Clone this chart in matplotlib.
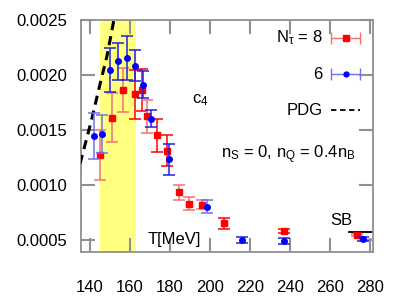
import numpy as np
import matplotlib
matplotlib.use("Agg")
import matplotlib.pyplot as plt

plt.rcParams['font.family'] = ['Liberation Sans', 'DejaVu Sans']
plt.rcParams['mathtext.fontset'] = 'custom'
plt.rcParams['mathtext.rm'] = 'Liberation Sans'
plt.rcParams['mathtext.it'] = 'Liberation Sans'
plt.rcParams['mathtext.default'] = 'regular'

# N_tau = 8 (red)
T8 = [145.0, 151.0, 156.7, 162.3, 166.0, 168.5, 173.7, 178.3, 184.7, 189.7, 196.2, 207.2, 236.8, 273.7]
c8 = [0.00127, 0.00161, 0.00186, 0.00182, 0.00186, 0.00162, 0.00145, 0.00131, 0.00093, 0.00083, 0.00082, 0.00065, 0.00058, 0.000545]
e8 = [0.00023, 0.00022, 0.00020, 0.00022, 0.00019, 0.00015, 0.00015, 0.00014, 0.00007, 0.00006, 0.00004, 0.00005, 0.00002, 0.00001]
dark8 = [0, 0, 0, 1, 1, 0, 1, 1, 0, 0, 0, 1, 1, 0]

# N_tau = 6 (blue)
T6 = [142.2, 145.8, 150.0, 153.8, 158.3, 162.3, 166.7, 170.5, 179.5, 198.7, 216.2, 237.2, 276.5]
c6 = [0.00144, 0.00146, 0.00204, 0.00212, 0.00215, 0.00208, 0.00191, 0.00160, 0.00123, 0.00080, 0.00050, 0.00049, 0.00051]
e6 = [0.00021, 0.00017, 0.00020, 0.00017, 0.00020, 0.00014, 0.00012, 0.00008, 0.00014, 0.00006, 0.00003, 0.00003, 0.00002]
dark6 = [0, 0, 1, 1, 1, 1, 1, 1, 1, 0, 1, 1, 1]

# PDG HRG curve
T_pdg = [135.0, 140.8, 144.7, 148.5, 152.0]
c_pdg = [0.00119, 0.00159, 0.00189, 0.00217, 0.0025]

# transition band and SB limit
Tc_band = (145.0, 163.0)
SB_T = (269.5, 281.5)
SB_c = 0.000576

fig = plt.figure(figsize=(4.02, 3.01), dpi=100)
ax = fig.add_axes([81/402, 49/301, 292/402, 232.5/301])

ax.axvspan(Tc_band[0], Tc_band[1], color='#ffff80', lw=0, zorder=0)
ax.plot(T_pdg, c_pdg, color='black', ls=(0, (3, 2)), lw=2.2, zorder=3)
ax.plot(SB_T, [SB_c, SB_c], color='black', lw=1.3)

for t, c, e, d in zip(T8, c8, e8, dark8):
    ax.errorbar(t, c, yerr=e, fmt='s', color='red', ms=4.3, capsize=4, lw=1.1,
                ecolor='red' if d else '#f57070', capthick=1.1, zorder=4)
for t, c, e, d in zip(T6, c6, e6, dark6):
    ax.errorbar(t, c, yerr=e, fmt='o', color='blue', ms=4, capsize=4, lw=1.1,
                ecolor='#2020e0' if d else '#7070f0', capthick=1.1, zorder=5)

# legend drawn by hand with horizontal error bars
tr = ax.transAxes
ax.errorbar([0.9065], [0.922], xerr=[0.049], fmt='s', color='red', ms=4, capsize=4,
            ecolor='#f57070', lw=1.0, transform=tr, clip_on=False)
ax.errorbar([0.9065], [0.765], xerr=[0.049], fmt='o', color='blue', ms=3.5, capsize=4,
            ecolor='#7070f0', lw=1.0, transform=tr, clip_on=False)
ax.plot([0.8575, 0.955], [0.612, 0.612], color='black', ls=(0, (3, 2)), lw=1.3, transform=tr)
ax.text(0.828, 0.922, r'$N_\tau$ = 8', transform=tr, ha='right', va='center', fontsize=12)
ax.text(0.828, 0.762, '6', transform=tr, ha='right', va='center', fontsize=12)
ax.text(0.828, 0.609, 'PDG', transform=tr, ha='right', va='center', fontsize=12)

ax.text(0.38, 0.655, r'c$_4$', transform=tr, ha='left', va='center', fontsize=12)
ax.text(0.942, 0.418, r'n$_S$ = 0, n$_Q$ = 0.4n$_B$', transform=tr, ha='right', va='center', fontsize=12)
ax.text(0.229, 0.055, 'T[MeV]', transform=tr, ha='left', va='center', fontsize=12)
ax.text(0.928, 0.135, 'SB', transform=tr, ha='right', va='center', fontsize=12)

ax.set_xlim(135.5, 281.5)
ax.set_ylim(0.00039, 0.0025)
ax.set_xticks(np.arange(140, 281, 20))
ax.set_yticks([0.0005, 0.0010, 0.0015, 0.0020, 0.0025])
ax.set_yticklabels(['0.0005', '0.0010', '0.0015', '0.0020', '0.0025'])
ax.tick_params(direction='in', length=10, width=1.5, color='#909090', top=True, right=True,
               labelsize=12, pad=10)
ax.tick_params(axis='x', pad=20)
for s in ax.spines.values():
    s.set_color('#909090')
    s.set_linewidth(1.3)

fig.savefig('out.png', dpi=100)
